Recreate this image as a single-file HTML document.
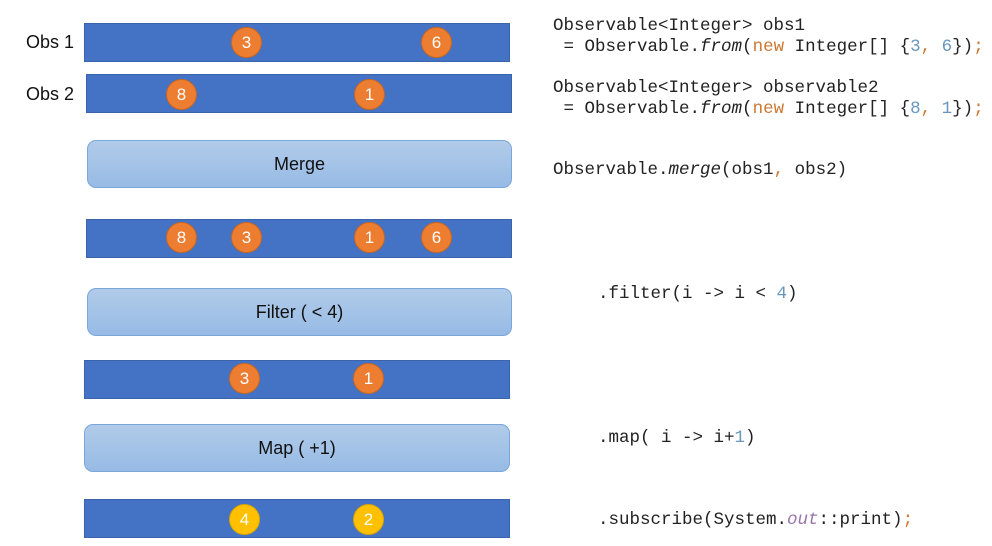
<!DOCTYPE html>
<html><head><meta charset="utf-8"><style>
body{margin:0;width:992px;height:546px;background:#fff;position:relative;overflow:hidden;font-family:"Liberation Sans",sans-serif}
.bar{position:absolute;background:#4472c4;border:1px solid #3b64ad;box-sizing:border-box}
.box{position:absolute;box-sizing:border-box;border:1px solid #7aa6da;border-radius:9px;background:linear-gradient(#b1cbe9,#97bbe5);text-align:center;font-size:18px;color:#111}
.c{position:absolute;width:31px;height:31px;border-radius:50%;background:#ed7d31;border:1px solid #c9661f;box-sizing:border-box;color:#fff;font-size:17px;text-align:center;line-height:29px}
.y{background:#ffc000;border-color:#d9a300}
.lbl{position:absolute;font-size:18px;color:#111}
.code{position:absolute;font-family:"Liberation Mono",monospace;font-size:17.5px;color:#222;white-space:pre;line-height:21px}
.o{color:#cc7832}.n{color:#6897bb}.i{font-style:italic}.p{color:#9876aa;font-style:italic}
</style></head><body>
<div class="lbl" style="left:26px;top:32px">Obs 1</div>
<div class="lbl" style="left:26px;top:84px">Obs 2</div>
<div class="bar" style="left:84px;top:23px;width:426px;height:39px"></div>
<div class="bar" style="left:86px;top:74px;width:426px;height:39px"></div>
<div class="box" style="left:87px;top:140px;width:425px;height:48px;line-height:46px">Merge</div>
<div class="bar" style="left:86px;top:219px;width:426px;height:39px"></div>
<div class="box" style="left:87px;top:288px;width:425px;height:48px;line-height:46px">Filter ( &lt; 4)</div>
<div class="bar" style="left:84px;top:360px;width:426px;height:39px"></div>
<div class="box" style="left:84px;top:424px;width:426px;height:48px;line-height:46px">Map ( +1)</div>
<div class="bar" style="left:84px;top:499px;width:426px;height:39px"></div>

<div class="c" style="left:231px;top:27px">3</div>
<div class="c" style="left:421px;top:27px">6</div>
<div class="c" style="left:166px;top:79px">8</div>
<div class="c" style="left:354px;top:79px">1</div>
<div class="c" style="left:166px;top:222px">8</div>
<div class="c" style="left:231px;top:222px">3</div>
<div class="c" style="left:354px;top:222px">1</div>
<div class="c" style="left:421px;top:222px">6</div>
<div class="c" style="left:229px;top:363px">3</div>
<div class="c" style="left:353px;top:363px">1</div>
<div class="c y" style="left:229px;top:504px">4</div>
<div class="c y" style="left:353px;top:504px">2</div>

<div class="code" style="left:553px;top:16px">Observable&lt;Integer&gt; obs1
 = Observable.<span class="i">from</span>(<span class="o">new</span> Integer[] {<span class="n">3</span><span class="o">,</span> <span class="n">6</span>})<span class="o">;</span></div>
<div class="code" style="left:553px;top:78px">Observable&lt;Integer&gt; observable2
 = Observable.<span class="i">from</span>(<span class="o">new</span> Integer[] {<span class="n">8</span><span class="o">,</span> <span class="n">1</span>})<span class="o">;</span></div>
<div class="code" style="left:553px;top:160px">Observable.<span class="i">merge</span>(obs1<span class="o">,</span> obs2)</div>
<div class="code" style="left:598px;top:284px">.filter(i -&gt; i &lt; <span class="n">4</span>)</div>
<div class="code" style="left:598px;top:428px">.map( i -&gt; i+<span class="n">1</span>)</div>
<div class="code" style="left:598px;top:510px">.subscribe(System.<span class="p">out</span>::print)<span class="o">;</span></div>
</body></html>
